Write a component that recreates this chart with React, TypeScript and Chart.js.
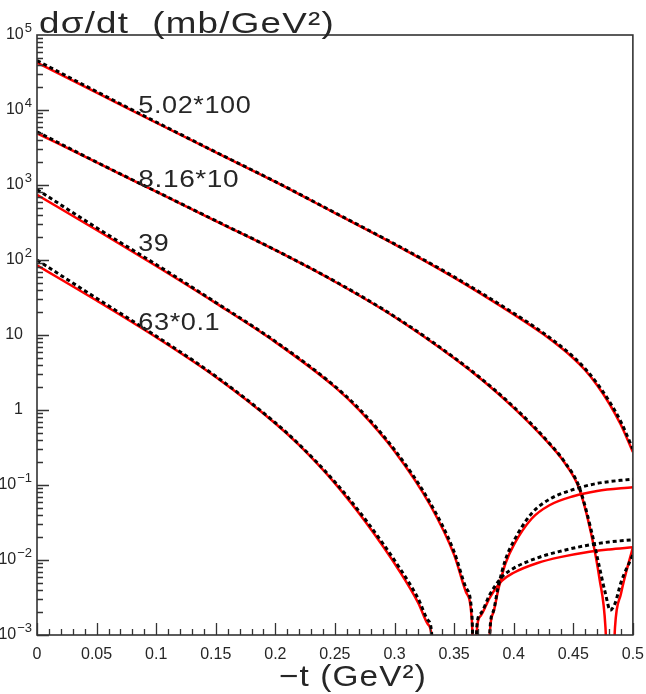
import React, { useEffect, useRef } from "react";
import { Chart, registerables } from "chart.js";
Chart.register(...registerables);

// ---- data ----
const xTickValues = [0, 0.05, 0.1, 0.15, 0.2, 0.25, 0.3, 0.35, 0.4, 0.45, 0.5];
const xTickLabels = ["0", "0.05", "0.1", "0.15", "0.2", "0.25", "0.3", "0.35", "0.4", "0.45", "0.5"];
const yTickValues = [1e5, 1e4, 1e3, 1e2, 10, 1, 0.1, 0.01, 0.001];
const yTickBase = ["10", "10", "10", "10", "10", "1", "10", "10", "10"];
const yTickExp = ["5", "4", "3", "2", "", "", "\u22121", "\u22122", "\u22123"];

const curveLabels = ["5.02*100", "8.16*10", "39", "63*0.1"];
const curveLabelY = [9100, 940, 132, 11.7];

// 5.02 TeV x 100
const c1T = [0, 0.05, 0.1, 0.15, 0.2, 0.25, 0.3, 0.35, 0.4, 0.425, 0.45, 0.46, 0.47, 0.48, 0.49, 0.5];
const c1Red = [4.27e4, 1.7e4, 6.76e3, 2.72e3, 1.1e3, 422, 162, 58.2, 18.8, 10.2, 4.9, 3.39, 2.14, 1.23, 0.631, 0.275];
const c1Black = [4.57e4, 1.76e4, 6.92e3, 2.75e3, 1.11e3, 427, 164, 59.6, 19.5, 10.6, 5.13, 3.55, 2.26, 1.32, 0.692, 0.302];

// 8.16 TeV x 10
const c2T = [0, 0.05, 0.1, 0.15, 0.2, 0.25, 0.3, 0.35, 0.375, 0.4, 0.425, 0.443, 0.455, 0.465, 0.472, 0.477, 0.481, 0.485, 0.49, 0.5];
const c2Red = [4.9e3, 2.0e3, 813, 331, 135, 51.3, 17.4, 4.9, 2.4, 1.07, 0.427, 0.195, 0.0891, 0.0224, 0.00562, 0.00126, 3.16e-5, 0.00126, 0.00355, 0.0148];
const c2Black = [5.13e3, 2.02e3, 820, 334, 136, 52, 17.7, 5.0, 2.45, 1.1, 0.44, 0.2, 0.0933, 0.0251, 0.00794, 0.00355, 0.00214, 0.00263, 0.00501, 0.0117];

// 39 GeV
const c3T = [0, 0.05, 0.1, 0.15, 0.2, 0.25, 0.27, 0.3, 0.33, 0.35, 0.36, 0.365, 0.3675, 0.369, 0.372, 0.38, 0.39, 0.4, 0.42, 0.44, 0.46, 0.48, 0.5];
const c3Red = [741, 251, 83.2, 26.6, 8.04, 2.02, 1.01, 0.282, 0.0537, 0.0117, 0.00372, 0.00148, 3.16e-5, 0.00112, 0.00178, 0.00316, 0.00525, 0.00676, 0.00912, 0.011, 0.0126, 0.0138, 0.0148];
const c3Black = [871, 269, 87.1, 27.2, 8.22, 2.07, 1.05, 0.295, 0.0575, 0.0129, 0.00427, 0.00178, 3.16e-5, 0.00126, 0.00191, 0.00347, 0.00589, 0.00776, 0.0107, 0.0132, 0.0155, 0.0174, 0.0186];

// 63 GeV x 0.1
const c4T = [0, 0.05, 0.1, 0.15, 0.2, 0.22, 0.25, 0.276, 0.304, 0.32, 0.328, 0.331, 0.334, 0.356, 0.378, 0.38, 0.383, 0.387, 0.393, 0.4, 0.415, 0.43, 0.45, 0.47, 0.5];
const c4Red = [85.1, 28.8, 9.33, 2.75, 0.661, 0.339, 0.105, 0.0316, 0.00718, 0.00266, 0.00139, 0.00099, 3.16e-5, 1e-7, 3.16e-5, 0.00107, 0.002, 0.00398, 0.00891, 0.0158, 0.0355, 0.0537, 0.0708, 0.0832, 0.0933];
const c4Black = [100, 30.9, 9.66, 2.82, 0.676, 0.347, 0.11, 0.0339, 0.00794, 0.00302, 0.00158, 0.00112, 3.16e-5, 1e-7, 3.16e-5, 0.00112, 0.00209, 0.00437, 0.01, 0.0178, 0.0417, 0.0646, 0.0871, 0.105, 0.12];

const FONT = "'Liberation Sans', Arial, sans-serif";
const TEXT = "#262626";

function drawStretched(ctx: CanvasRenderingContext2D, text: string, x: number, y: number, target: number, spacing = 0) {
  const c: any = ctx;
  c.letterSpacing = spacing + "px";
  const w = ctx.measureText(text).width;
  const sx = target / w;
  ctx.save();
  ctx.translate(x, y);
  ctx.scale(sx, 1);
  ctx.fillText(text, 0, 0);
  ctx.restore();
  c.letterSpacing = "0px";
}

const decor = {
  id: "decor",
  afterDatasetsDraw(chart: any) {
    const { ctx, chartArea: a, scales } = chart;
    const xs = scales.x, ys = scales.y;
    ctx.save();
    // frame
    ctx.strokeStyle = "#333";
    ctx.lineWidth = 1.6;
    ctx.strokeRect(a.left, a.top, a.right - a.left, a.bottom - a.top);
    // x ticks (inward)
    ctx.lineWidth = 1.3;
    ctx.beginPath();
    for (let i = 0; i <= 50; i++) {
      const px = Math.round(xs.getPixelForValue(i * 0.01)) + 0.5;
      const len = i % 5 === 0 ? 12 : 6;
      ctx.moveTo(px, a.bottom);
      ctx.lineTo(px, a.bottom - len);
    }
    // y ticks (inward)
    for (let e = -3; e <= 4; e++) {
      for (let k = 1; k <= 9; k++) {
        const v = k * Math.pow(10, e);
        const py = Math.round(ys.getPixelForValue(v)) + 0.5;
        const len = k === 1 ? 12 : 6;
        ctx.moveTo(a.left, py);
        ctx.lineTo(a.left + len, py);
      }
    }
    ctx.stroke();

    // y labels with superscripts
    ctx.fillStyle = TEXT;
    ctx.textBaseline = "middle";
    yTickValues.forEach((v, i) => {
      const py = ys.getPixelForValue(v);
      const base = yTickBase[i];
      const ex = yTickExp[i];
      ctx.font = "16px " + FONT;
      const bw = ctx.measureText(base).width;
      if (ex) {
        ctx.font = "13px " + FONT;
        const ew = ctx.measureText(ex).width;
        const end = 32;
        ctx.textAlign = "left";
        ctx.fillText(ex, end - ew, py - 7);
        ctx.font = "16px " + FONT;
        ctx.fillText(base, end - ew - bw - 1, py);
      } else {
        ctx.textAlign = "right";
        ctx.fillText(base, 23, py);
      }
    });

    // titles
    ctx.textAlign = "left";
    ctx.textBaseline = "alphabetic";
    ctx.font = "30px " + FONT;
    drawStretched(ctx, "d\u03c3/dt  (mb/GeV\u00b2)", 39, 33, 296, 1);
    drawStretched(ctx, "\u2212t (GeV\u00b2)", 279, 686, 148, 1);

    // curve labels
    ctx.font = "23px " + FONT;
    const widths = [113, 101, 31, 82];
    curveLabels.forEach((s, i) => {
      drawStretched(ctx, s, xs.getPixelForValue(0.085), ys.getPixelForValue(curveLabelY[i]), widths[i], 0.5);
    });
    ctx.restore();
  },
};

export default function App() {
  const ref = useRef<HTMLCanvasElement>(null);
  useEffect(() => {
    document.body.style.margin = "0";
    const mk = (t: number[], v: number[]) => t.map((x, i) => ({ x, y: v[i] }));
    const black = (t: number[], v: number[]) => ({
      data: mk(t, v),
      borderColor: "#000",
      borderWidth: 3,
      borderDash: [4, 3],
    });
    const red = (t: number[], v: number[]) => ({
      data: mk(t, v),
      borderColor: "#ff0000",
      borderWidth: 2.5,
    });
    const chart = new Chart(ref.current!, {
      type: "line",
      data: {
        datasets: [
          black(c1T, c1Black),
          black(c2T, c2Black),
          black(c3T, c3Black),
          black(c4T, c4Black),
          red(c1T, c1Red),
          red(c2T, c2Red),
          red(c3T, c3Red),
          red(c4T, c4Red),
        ] as any,
      },
      options: {
        animation: false,
        responsive: true,
        maintainAspectRatio: false,
        layout: { padding: { top: 35, right: 11, left: 0, bottom: 0 } },
        elements: {
          point: { radius: 0, hoverRadius: 0 },
          line: { cubicInterpolationMode: "monotone", capBezierPoints: false, fill: false } as any,
        },
        plugins: { legend: { display: false }, tooltip: { enabled: false }, title: { display: false } },
        events: [],
        scales: {
          x: {
            type: "linear",
            min: 0,
            max: 0.5,
            afterBuildTicks: (s: any) => {
              s.ticks = xTickValues.map((v) => ({ value: v }));
            },
            afterFit: (s: any) => {
              s.height = 59;
            },
            grid: { display: false },
            border: { display: false },
            ticks: {
              autoSkip: false,
              maxRotation: 0,
              padding: 2,
              color: TEXT,
              font: { family: FONT, size: 16 },
              callback: (_v: any, i: number) => xTickLabels[i],
            },
          },
          y: {
            type: "logarithmic",
            min: 1e-3,
            max: 1e5,
            afterFit: (s: any) => {
              s.width = 37;
            },
            grid: { display: false },
            border: { display: false },
            ticks: { display: false },
          },
        },
      },
      plugins: [decor],
    });
    return () => chart.destroy();
  }, []);
  return (
    <div style={{ position: "absolute", left: 0, top: 0, width: 646, height: 694, background: "#fff" }}>
      <canvas ref={ref} />
    </div>
  );
}
